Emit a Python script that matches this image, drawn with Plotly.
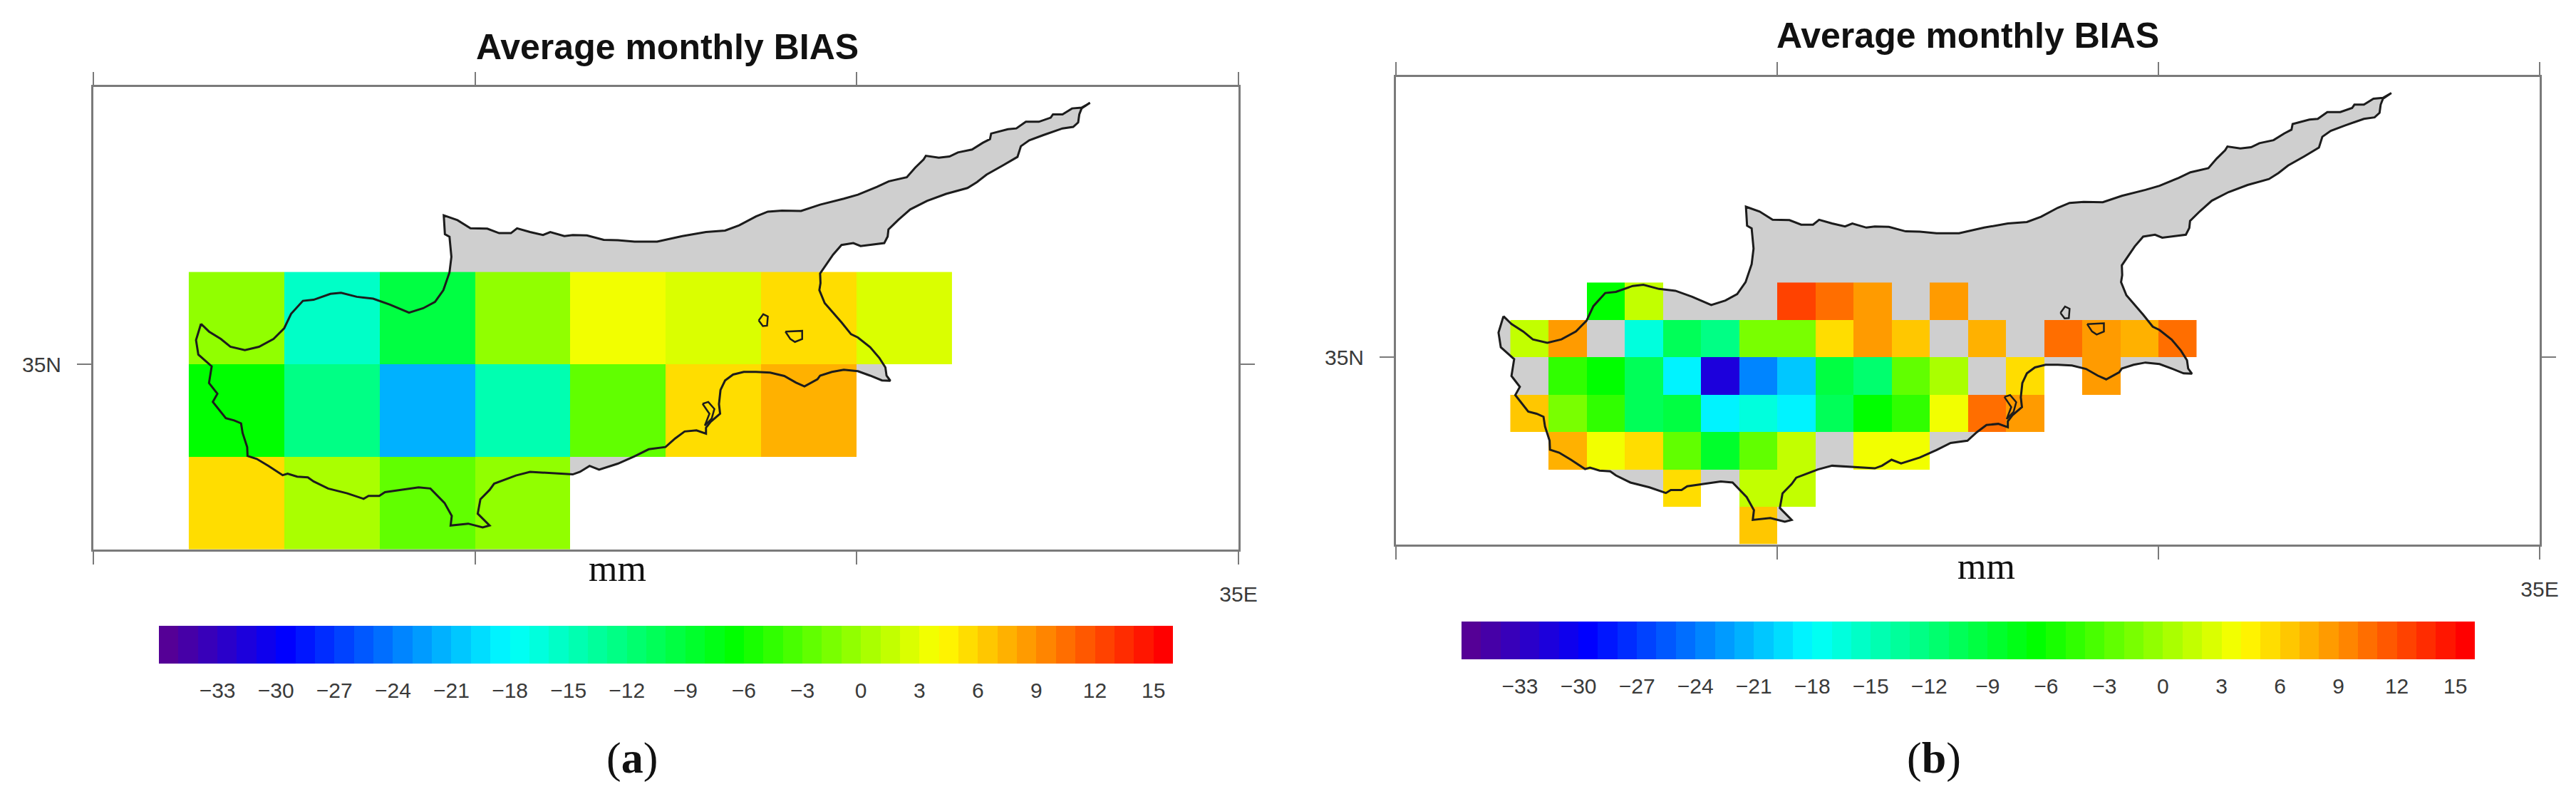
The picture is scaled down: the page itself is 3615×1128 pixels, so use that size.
import numpy as np
import plotly.graph_objects as go

W, H = 3615, 1128

# coastline, degrees (closed ring)
coast_lon = [32.282, 32.303, 32.334, 32.359, 32.397, 32.434, 32.472, 32.500, 32.518, 32.549, 32.577, 32.621,
             32.649, 32.690, 32.733, 32.777, 32.827, 32.864, 32.895, 32.917, 32.933, 32.938, 32.933, 32.921,
             32.918, 32.954, 32.988, 33.032, 33.063, 33.094, 33.110, 33.144, 33.178, 33.197, 33.234, 33.256,
             33.293, 33.337, 33.374, 33.418, 33.477, 33.543, 33.605, 33.655, 33.692, 33.736, 33.767, 33.804,
             33.854, 33.904, 33.966, 34.003, 34.053, 34.084, 34.131, 34.153, 34.175, 34.181, 34.215, 34.243,
             34.265, 34.302, 34.330, 34.349, 34.352, 34.396, 34.418, 34.443, 34.477, 34.508, 34.514, 34.539,
             34.564, 34.589, 34.611, 34.589, 34.583, 34.580, 34.567, 34.539, 34.489, 34.452, 34.430, 34.421,
             34.383, 34.340, 34.315, 34.290, 34.234, 34.184, 34.140, 34.109, 34.083, 34.081, 34.072, 34.028,
             34.010, 33.991, 33.960, 33.938, 33.916, 33.904, 33.905, 33.902, 33.916, 33.941, 33.960, 33.985,
             34.003, 34.035, 34.059, 34.075, 34.078, 34.088, 34.066, 34.035, 34.003, 33.966, 33.935, 33.904,
             33.897, 33.863, 33.841, 33.810, 33.773, 33.736, 33.704, 33.676, 33.655, 33.643, 33.639, 33.642,
             33.617, 33.605, 33.605, 33.580, 33.549, 33.524, 33.499, 33.455, 33.418, 33.374, 33.325, 33.300,
             33.275, 33.256, 33.188, 33.144, 33.107, 33.050, 33.038, 33.014, 33.007, 33.038, 33.020, 32.982,
             32.936, 32.939, 32.920, 32.883, 32.852, 32.808, 32.764, 32.749, 32.721, 32.708, 32.665, 32.615,
             32.577, 32.562, 32.534, 32.509, 32.496, 32.459, 32.428, 32.404, 32.403, 32.391, 32.387, 32.369,
             32.347, 32.313, 32.325, 32.303, 32.310, 32.275, 32.269, 32.282]
coast_lat = [35.110, 35.089, 35.069, 35.048, 35.039, 35.048, 35.069, 35.098, 35.137, 35.172, 35.175, 35.191,
             35.194, 35.183, 35.178, 35.162, 35.140, 35.152, 35.169, 35.201, 35.249, 35.291, 35.345, 35.352,
             35.403, 35.390, 35.368, 35.367, 35.355, 35.355, 35.368, 35.358, 35.350, 35.358, 35.347, 35.350,
             35.349, 35.337, 35.336, 35.332, 35.332, 35.347, 35.358, 35.362, 35.376, 35.400, 35.413, 35.416,
             35.415, 35.432, 35.448, 35.459, 35.480, 35.495, 35.506, 35.532, 35.554, 35.564, 35.559, 35.562,
             35.573, 35.581, 35.599, 35.609, 35.624, 35.636, 35.638, 35.656, 35.656, 35.667, 35.676, 35.676,
             35.692, 35.694, 35.707, 35.692, 35.676, 35.654, 35.642, 35.638, 35.620, 35.606, 35.590, 35.561,
             35.538, 35.513, 35.493, 35.477, 35.461, 35.442, 35.419, 35.391, 35.365, 35.346, 35.328, 35.323,
             35.320, 35.328, 35.323, 35.297, 35.265, 35.246, 35.220, 35.201, 35.166, 35.137, 35.114, 35.082,
             35.073, 35.047, 35.018, 34.992, 34.970, 34.956, 34.957, 34.970, 34.982, 34.986, 34.980, 34.970,
             34.960, 34.941, 34.951, 34.969, 34.978, 34.980, 34.980, 34.973, 34.957, 34.931, 34.893, 34.867,
             34.845, 34.829, 34.813, 34.822, 34.819, 34.800, 34.777, 34.771, 34.752, 34.732, 34.716, 34.726,
             34.710, 34.703, 34.707, 34.710, 34.700, 34.678, 34.661, 34.636, 34.597, 34.565, 34.560, 34.570,
             34.565, 34.591, 34.626, 34.665, 34.668, 34.661, 34.655, 34.645, 34.645, 34.637, 34.652, 34.665,
             34.684, 34.695, 34.697, 34.705, 34.701, 34.726, 34.745, 34.753, 34.777, 34.815, 34.841, 34.849,
             34.855, 34.899, 34.921, 34.950, 34.995, 35.027, 35.066, 35.110]

# salt lakes, outlines only
lake_lon = [33.596, 33.611, 33.627, 33.620, 33.602, 33.614, 33.596, None,
            33.743, 33.755, 33.767, 33.765, 33.754, 33.743, None,
            33.813, 33.857, 33.857, 33.838, 33.826, 33.813]
lake_lat = [34.894, 34.899, 34.880, 34.854, 34.835, 34.867, 34.894, None,
            35.119, 35.136, 35.130, 35.105, 35.104, 35.119, None,
            35.089, 35.091, 35.069, 35.061, 35.069, 35.089]

# panel a, 0.25 degree cells (south to north)
lon_a = [32.25, 32.5, 32.75, 33.0, 33.25, 33.5, 33.75, 34.0, 34.25]
lat_a = [34.5, 34.75, 35.0, 35.25]
bias_a = [
    [5.5, 0.5, -2.5, -0.5, None, None, None, None],
    [-6.5, -12.5, -21.5, -14.5, -2.5, 5.5, 7.5, None],
    [-0.5, -15.5, -9.5, -0.5, 3.5, 2.5, 5.5, 2.5],
]

# panel b, 0.1 degree cells (south to north)
lon_b = [32.3, 32.4, 32.5, 32.6, 32.7, 32.8, 32.9, 33.0, 33.1, 33.2, 33.3, 33.4, 33.5, 33.6, 33.7, 33.8, 33.9, 34.0, 34.1]
lat_b = [34.5, 34.6, 34.7, 34.8, 34.9, 35.0, 35.1, 35.2]
bias_b = [
    [None, None, None, None, None, None, 6.5, None, None, None, None, None, None, None, None, None, None, None],
    [None, None, None, None, 5.5, None, 1.5, 1.5, None, None, None, None, None, None, None, None, None, None],
    [None, 7.5, 3.5, 5.5, -2.5, -8.5, -2.5, 1.5, None, 3.5, 3.5, None, None, None, None, None, None, None],
    [6.5, -1.5, -4.5, -10.5, -9.5, -18.5, -16.5, -18.5, -10.5, -6.5, -4.5, 3.5, 10.5, 8.5, None, None, None, None],
    [None, -4.5, -6.5, -10.5, -18.5, -31.5, -23.5, -20.5, -9.5, -11.5, -2.5, 0.5, None, 5.5, None, 8.5, None, None],
    [1.5, 8.5, None, -16.5, -10.5, -12.5, -1.5, -1.5, 5.5, 8.5, 6.5, None, 7.5, None, 10.5, 8.5, 7.5, 10.5],
    [None, None, -6.5, 1.5, None, None, None, 12.5, 10.5, 8.5, None, 8.5, None, None, None, None, None, None],
]

bar_ticks = [-33, -30, -27, -24, -21, -18, -15, -12, -9, -6, -3, 0, 3, 6, 9, 12, 15]
z_min, z_max = -36, 16

# stepped colour scale, one box per unit
stop_vals = [-35.5, -29.5, -18, -6.5, 4, 15.5]
stop_r = [85, 0, 0, 0, 255, 255]
stop_g = [0, 0, 255, 255, 255, 0]
stop_b = [150, 255, 255, 0, 0, 0]

n_box = z_max - z_min
scale = []
for i in range(n_box):
    v = z_min + i + 0.5
    c = "rgb(%d,%d,%d)" % (np.interp(v, stop_vals, stop_r), np.interp(v, stop_vals, stop_g), np.interp(v, stop_vals, stop_b))
    scale.append([i / n_box, c])
    scale.append([(i + 1) / n_box, c])

TICK_FONT = dict(family="Liberation Sans", size=30, color="#3a3a3a")
FRAME = "#7a7a7a"


def bar(left, right, top):
    return dict(orientation="h", x=left / W, xanchor="left", len=(right - left) / W, lenmode="fraction",
                y=1 - top / H, yanchor="top", thickness=53, thicknessmode="pixels", xpad=0, ypad=0,
                outlinewidth=0, tickvals=bar_ticks, ticks="outside", ticklen=12, tickcolor="rgba(0,0,0,0)",
                tickfont=TICK_FONT)


def axes(fig, name_x, name_y, left, right, top, bottom):
    # anchors must pair up, otherwise the second panel hangs off the first one's axes
    anchor_x = name_y.replace("axis", "")
    anchor_y = name_x.replace("axis", "")
    fig.update_layout({
        name_x: dict(domain=[left / W, right / W], range=[32, 35], anchor=anchor_x, tickvals=[32, 33, 34, 35],
                     ticktext=["", "", "", "35E"], ticks="outside", ticklen=18, tickwidth=2, tickcolor=FRAME,
                     showline=True, linecolor=FRAME, linewidth=3, mirror="ticks", showgrid=False, zeroline=False,
                     tickfont=TICK_FONT, ticklabelstandoff=16),
        name_y: dict(domain=[1 - bottom / H, 1 - top / H], range=[34.5, 35.75], anchor=anchor_y, tickvals=[35],
                     ticktext=["35N"], ticks="outside", ticklen=20, tickwidth=2, tickcolor=FRAME,
                     showline=True, linecolor=FRAME, linewidth=3, mirror="ticks", showgrid=False, zeroline=False,
                     tickfont=TICK_FONT, ticklabelstandoff=16),
    })


def label(x, y, text, family, size):
    return dict(x=x / W, y=1 - y / H, xref="paper", yref="paper", text=text, showarrow=False,
                xanchor="center", yanchor="middle", font=dict(family=family, size=size, color="#111111"))


fig = go.Figure()

fig.add_trace(go.Heatmap(x=lon_a, y=lat_a, z=bias_a, zmin=z_min, zmax=z_max, colorscale=scale,
                         colorbar=bar(223, 1646, 878), xaxis="x", yaxis="y"))
fig.add_trace(go.Heatmap(x=lon_b, y=lat_b, z=bias_b, zmin=z_min, zmax=z_max, colorscale=scale,
                         colorbar=bar(2051, 3473, 872), xaxis="x2", yaxis="y2"))

# coast outlines over the cells, land fill goes in as a shape below them
for ax_x, ax_y in [("x", "y"), ("x2", "y2")]:
    fig.add_trace(go.Scatter(x=coast_lon, y=coast_lat, mode="lines", line=dict(color="#1c1c1c", width=3),
                             hoverinfo="skip", showlegend=False, xaxis=ax_x, yaxis=ax_y))
    fig.add_trace(go.Scatter(x=lake_lon, y=lake_lat, mode="lines", line=dict(color="#1c1c1c", width=2.5),
                             hoverinfo="skip", showlegend=False, xaxis=ax_x, yaxis=ax_y))

land_path = "M " + " L ".join("%s,%s" % p for p in zip(coast_lon, coast_lat)) + " Z"
shapes = [dict(type="path", path=land_path, xref=ax_x, yref=ax_y, fillcolor="#cfcfcf", line_width=0, layer="below")
          for ax_x, ax_y in [("x", "y"), ("x2", "y2")]]

axes(fig, "xaxis", "yaxis", 131, 1738, 122, 771)
axes(fig, "xaxis2", "yaxis2", 1959, 3564, 108, 763.5)

# autoexpand off: the colour bars and the 35E label would otherwise squeeze the plot area
fig.update_layout(
    width=W, height=H, margin=dict(l=0, r=0, t=0, b=0, autoexpand=False), paper_bgcolor="white", plot_bgcolor="white",
    showlegend=False, shapes=shapes,
    annotations=[
        label(936, 66, "<b>Average monthly BIAS</b>", "Liberation Sans", 50),
        label(2761, 50, "<b>Average monthly BIAS</b>", "Liberation Sans", 50),
        label(866, 797, "mm", "Liberation Serif", 52),
        label(2787, 794, "mm", "Liberation Serif", 52),
        label(887, 1063, "(<b>a</b>)", "Liberation Serif", 62),
        label(2714, 1063, "(<b>b</b>)", "Liberation Serif", 62),
    ],
)

# browser's default body margin would shift everything by 8px
fig.write_html("out.html", post_script="document.body.style.margin='0';", config=dict(displayModeBar=False))
